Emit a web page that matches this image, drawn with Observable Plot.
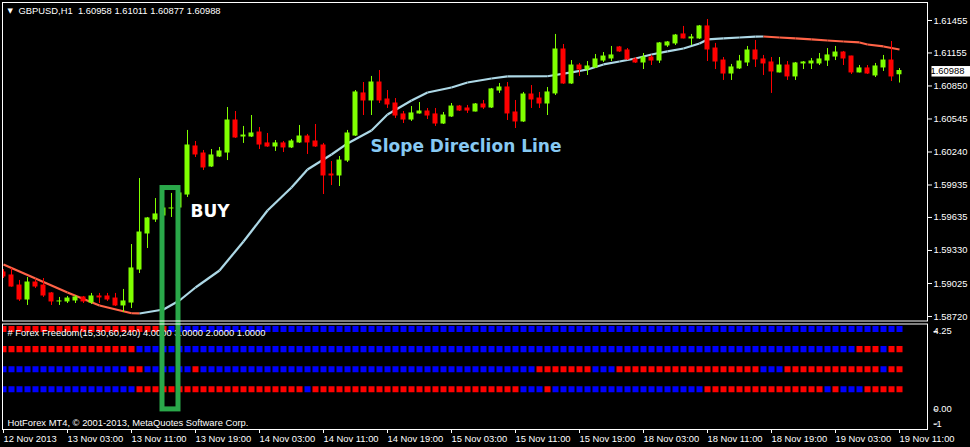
<!DOCTYPE html>
<html><head><meta charset="utf-8">
<script src="https://cdn.jsdelivr.net/npm/d3@7"></script>
<script src="https://cdn.jsdelivr.net/npm/@observablehq/plot@0.6"></script>
<style>
html,body{margin:0;padding:0;background:#000;}
#chart{width:970px;height:447px;overflow:hidden;background:#000;}
#chart svg{display:block;overflow:hidden;}
</style></head><body><div id="chart"></div>
<script>
const symbol = "GBPUSD", timeframe = "H1";
// H1 candles, bar 0 = 12 Nov 2013 19:00
const opens = [1.59127,1.59099,1.59006,1.58877,1.59034,1.59006,1.58933,1.58859,1.58859,1.58868,1.58896,1.58849,1.58905,1.58905,1.58886,1.58822,1.58849,1.59154,1.59487,1.59616,1.59653,1.59718,1.59727,1.59847,1.60291,1.60226,1.60106,1.60198,1.60235,1.60531,1.60383,1.60383,1.60420,1.60319,1.60291,1.60319,1.60282,1.60328,1.60383,1.60337,1.60300,1.60032,1.60023,1.60161,1.60392,1.60781,1.60716,1.60882,1.60725,1.60688,1.60587,1.60540,1.60596,1.60614,1.60587,1.60503,1.60568,1.60660,1.60642,1.60614,1.60679,1.60651,1.60808,1.60836,1.60605,1.60522,1.60771,1.60734,1.60688,1.60781,1.61187,1.60873,1.61039,1.61002,1.61021,1.61085,1.61104,1.61206,1.61178,1.61095,1.61067,1.61113,1.61085,1.61224,1.61243,1.61326,1.61289,1.61289,1.61400,1.61196,1.61085,1.60965,1.61012,1.61067,1.61178,1.61095,1.61067,1.60975,1.61039,1.60938,1.61058,1.61058,1.61058,1.61085,1.61122,1.61159,1.61122,1.60975,1.61012,1.60947,1.61021,1.61085,1.60958];
const highs = [1.59154,1.59164,1.59053,1.59080,1.59062,1.59071,1.58942,1.58896,1.58905,1.58914,1.58905,1.58933,1.58933,1.58933,1.58933,1.58970,1.59385,1.59995,1.59635,1.59810,1.59736,1.59857,1.59884,1.60439,1.60337,1.60254,1.60263,1.60282,1.60651,1.60614,1.60476,1.60577,1.60466,1.60411,1.60346,1.60337,1.60355,1.60485,1.60402,1.60494,1.60319,1.60152,1.60198,1.60439,1.60808,1.60882,1.60938,1.60993,1.60808,1.60734,1.60614,1.60660,1.60697,1.60642,1.60642,1.60605,1.60688,1.60670,1.60670,1.60688,1.60716,1.60827,1.60873,1.60882,1.60716,1.60790,1.60854,1.60790,1.60836,1.61326,1.61233,1.61085,1.61058,1.61076,1.61141,1.61159,1.61215,1.61215,1.61196,1.61113,1.61150,1.61132,1.61252,1.61261,1.61326,1.61400,1.61326,1.61409,1.61464,1.61243,1.61113,1.61049,1.61132,1.61215,1.61270,1.61132,1.61113,1.61113,1.61076,1.61067,1.61076,1.61104,1.61150,1.61196,1.61215,1.61169,1.61125,1.61039,1.61039,1.61058,1.61132,1.61261,1.61011];
const lows = [1.59071,1.58990,1.58859,1.58822,1.58979,1.58896,1.58822,1.58822,1.58840,1.58840,1.58840,1.58831,1.58840,1.58859,1.58812,1.58757,1.58794,1.59117,1.59348,1.59589,1.59644,1.59635,1.59699,1.59820,1.60189,1.60069,1.60097,1.60189,1.60161,1.60365,1.60319,1.60374,1.60263,1.60282,1.60245,1.60235,1.60272,1.60319,1.60217,1.60282,1.59847,1.59930,1.59921,1.60143,1.60383,1.60577,1.60577,1.60688,1.60642,1.60550,1.60503,1.60522,1.60590,1.60540,1.60476,1.60494,1.60559,1.60614,1.60596,1.60610,1.60633,1.60642,1.60781,1.60531,1.60457,1.60513,1.60642,1.60642,1.60577,1.60762,1.60864,1.60864,1.60938,1.60947,1.61012,1.61067,1.61076,1.61160,1.61085,1.61058,1.61002,1.61039,1.61058,1.61206,1.61224,1.61285,1.61224,1.61280,1.61076,1.61002,1.60901,1.60901,1.61002,1.61030,1.61021,1.60947,1.60781,1.60970,1.60901,1.60901,1.61002,1.61002,1.61039,1.61030,1.61085,1.61039,1.60956,1.60970,1.60956,1.60928,1.60984,1.60891,1.60877];
const closes = [1.59090,1.58997,1.58877,1.59034,1.58997,1.58914,1.58859,1.58859,1.58886,1.58896,1.58859,1.58905,1.58896,1.58877,1.58822,1.58859,1.59164,1.59496,1.59626,1.59663,1.59718,1.59718,1.59857,1.60300,1.60217,1.60097,1.60208,1.60245,1.60531,1.60374,1.60392,1.60411,1.60309,1.60291,1.60319,1.60282,1.60337,1.60383,1.60328,1.60291,1.60023,1.60023,1.60161,1.60411,1.60790,1.60716,1.60882,1.60716,1.60679,1.60577,1.60540,1.60596,1.60614,1.60577,1.60503,1.60577,1.60660,1.60623,1.60623,1.60679,1.60651,1.60818,1.60836,1.60596,1.60522,1.60771,1.60725,1.60688,1.60790,1.61187,1.60873,1.61039,1.61002,1.61030,1.61095,1.61122,1.61132,1.61169,1.61095,1.61067,1.61113,1.61085,1.61243,1.61252,1.61316,1.61289,1.61298,1.61400,1.61187,1.61076,1.60965,1.61021,1.61076,1.61178,1.61095,1.61058,1.60984,1.61039,1.60938,1.61058,1.61067,1.61076,1.61095,1.61132,1.61159,1.61104,1.60975,1.61012,1.60965,1.61030,1.61085,1.60938,1.60988];

// Slope Direction Line readings (bar, price)
const sdlBars   = [0,4,8,12,16,17,20,22,24,27,30,33,36,38,41,43,46,48,51,53,56,58,61,63,68,71,73,75,77,79,81,83,85,87,88,90,92,94,95,97,99,101,103,105,107,108,110,112];
const sdlValues = [1.59200,1.59071,1.58942,1.58822,1.58750,1.58748,1.58785,1.58868,1.58988,1.59145,1.59413,1.59699,1.59912,1.60078,1.60217,1.60319,1.60439,1.60587,1.60716,1.60790,1.60836,1.60882,1.60919,1.60938,1.60940,1.60975,1.61002,1.61049,1.61076,1.61104,1.61141,1.61169,1.61196,1.61243,1.61280,1.61289,1.61298,1.61305,1.61307,1.61298,1.61289,1.61280,1.61270,1.61261,1.61252,1.61233,1.61215,1.61187];

// Forex Freedom signal rows (runs of r=red / b=blue, one square per bar)
const rowM15  = [["r",21],["b",92]];
const rowM30  = [["r",17],["b",90],["r",3],["b",1],["r",2]];
const rowH1   = [["b",16],["r",2],["b",6],["r",1],["b",42],["r",7],["b",3],["r",18],["b",3],["r",12],["b",1],["r",2]];
const rowH4   = [["b",17],["r",21],["b",1],["r",26],["b",3],["r",1],["b",19],["r",15],["b",1],["r",1],["b",3],["r",5]];
const rowLevels = [4, 3, 2, 1];

const priceTicks = [1.61455,1.61155,1.60850,1.60545,1.60240,1.59935,1.59635,1.59330,1.59025,1.58720];
const indTopLabel = "4.25", indZeroLabel = "0.00", indBottomLabel = "-1";
const timeTickBars = [0,8,16,24,32,40,48,56,64,72,80,88,96,104,112];
const timeLabels = ["12 Nov 2013","13 Nov 03:00","13 Nov 11:00","13 Nov 19:00","14 Nov 03:00","14 Nov 11:00","14 Nov 19:00","15 Nov 03:00","15 Nov 11:00","15 Nov 19:00","18 Nov 03:00","18 Nov 11:00","18 Nov 19:00","19 Nov 03:00","19 Nov 11:00"];

// annotations
const buyBox = {firstBar: 20, lastBar: 22, topPrice: 1.59907, bottomLevel: 0};
const buyLabel = {text: "BUY", bar: 21, price: 1.59686};
const sdlLabel = {text: "Slope Direclion Line", bar: 46, price: 1.60286};
const indName = "# Forex Freedom(15,30,60,240) 4.0000 3.0000 2.0000 1.0000";
const copyright = "HotForex MT4, \u00a9 2001-2013, MetaQuotes Software Corp.";

// ---------- build ----------
const bull = "#80ff00", bear = "#ff0000", green = "#2aa84a";
const candles = opens.map((o, i) => ({i, open: o, high: highs[i], low: lows[i], close: closes[i]}));
const col = d => d.close >= d.open ? bull : bear;
const last = candles[candles.length - 1];
const sdl = sdlBars.map((b, k) => ({b, v: sdlValues[k]}));
const sdlSegs = d3.pairs(sdl).map(([a, b]) => ({x1: a.b, y1: a.v, x2: b.b, y2: b.v, up: b.v >= a.v}));
const cells = [rowM15, rowM30, rowH1, rowH4].flatMap((runs, r) => {
  let i = 0;
  return runs.flatMap(([s, n]) => d3.range(n).map(() => ({i: i++, level: rowLevels[r], s})));
});

const xDomain = [-0.125, 115.5];
const yDomain = [1.586784, 1.616212];
const font = "Liberation Sans, Arial, sans-serif";
const fs = 9.4;
const baseStyle = {background: "#000", color: "#fff", fontFamily: font, fontSize: fs + "px", overflow: "hidden"};
const f5 = d => d.toFixed(5);
const title = `${symbol},${timeframe}  ${f5(last.open)} ${f5(last.high)} ${f5(last.low)} ${f5(last.close)}`;
const boxX1 = d => d.firstBar - 0.125, boxX2 = d => d.lastBar - 0.125;

// short tick on the right edge of a panel, drawn at a text mark's anchor
function edgeTick(index, scales, values, d, context, next) {
  const g = next(index, scales, values, d, context);
  const ns = "http://www.w3.org/2000/svg";
  g.querySelectorAll("text").forEach(t => {
    const tr = t.getAttribute("transform") || "";
    const m = /translate\(([-\d.e]+),\s*([-\d.e]+)\)/.exec(tr);
    const yy = m ? +m[2] : +(t.getAttribute("y") || 0);
    const l = document.createElementNS(ns, "line");
    l.setAttribute("x1", d.width - d.marginRight);
    l.setAttribute("x2", d.width - d.marginRight + 4);
    l.setAttribute("y1", yy + 0.5);
    l.setAttribute("y2", yy + 0.5);
    l.setAttribute("stroke", "#fff");
    g.appendChild(l);
  });
  return g;
}

const main = Plot.plot({
  width: 970, height: 322,
  marginLeft: 2, marginRight: 43, marginTop: 2, marginBottom: 1.5,
  style: baseStyle,
  x: {domain: xDomain, axis: null, label: null},
  y: {domain: yDomain, axis: null, label: null},
  marks: [
    Plot.link(sdlSegs, {x1: "x1", y1: "y1", x2: "x2", y2: "y2", stroke: d => d.up ? "#add8e6" : "#ff6347", strokeWidth: 2.2, clip: true}),
    Plot.ruleX(candles, {x: "i", y1: "low", y2: "high", stroke: col, strokeWidth: 1, clip: true}),
    Plot.rect(candles, {x1: d => d.i - 0.5, x2: d => d.i + 0.5, y1: "open", y2: "close", fill: col, insetLeft: 1.5, insetRight: 1.5, insetTop: -0.5, insetBottom: -0.5, clip: true}),
    Plot.rect([buyBox], {x1: boxX1, x2: boxX2, y1: "topPrice", y2: () => yDomain[0] - 0.002, fill: "none", stroke: green, strokeWidth: 5}),
    Plot.text([buyLabel], {x: "bar", y: "price", text: "text", dx: 19, textAnchor: "start", fill: "#fff", fontWeight: "bold", fontSize: 17, fontFamily: "DejaVu Sans"}),
    Plot.text([sdlLabel], {x: "bar", y: "price", text: "text", dx: -1, textAnchor: "start", fill: "#87c9f2", fontWeight: "bold", fontSize: 17, fontFamily: "DejaVu Sans"}),
    Plot.text(["\u25BC"], {frameAnchor: "top-left", dx: 5, dy: 8, lineAnchor: "middle", textAnchor: "start", fontSize: 7, fill: "#fff", fontFamily: "DejaVu Sans"}),
    Plot.text([title], {frameAnchor: "top-left", dx: 16, dy: 8, lineAnchor: "middle", textAnchor: "start", fill: "#fff"}),
    Plot.axisY(priceTicks, {anchor: "right", tickSize: 4, tickPadding: 2, tickFormat: f5, label: null}),
    Plot.text([last.close], {
      y: d => d, text: f5, frameAnchor: "right", dx: 3, textAnchor: "start", fill: "#000",
      render(index, scales, values, dims, context, next) {
        const g = next(index, scales, values, dims, context);
        const yy = values.y ? values.y[0] : scales.y(last.close);
        const r = document.createElementNS("http://www.w3.org/2000/svg", "rect");
        r.setAttribute("x", dims.width - dims.marginRight + 1);
        r.setAttribute("y", yy - 5);
        r.setAttribute("width", 39);
        r.setAttribute("height", 10.5);
        r.setAttribute("fill", "#fff");
        g.insertBefore(r, g.firstChild);
        return g;
      }
    }),
    Plot.frame({stroke: "#fff"})
  ]
});

const ind = Plot.plot({
  width: 970, height: 125,
  marginLeft: 2, marginRight: 43, marginTop: 1.5, marginBottom: 18,
  style: baseStyle,
  x: {domain: xDomain, axis: null, label: null},
  y: {domain: [-1, 4.25], axis: null, label: null},
  marks: [
    Plot.dot(cells, {x: "i", y: "level", symbol: "square", r: 3.4, fill: d => d.s === "r" ? "#ff0000" : "#0000ff", stroke: null, clip: true}),
    Plot.text([indName], {frameAnchor: "top-left", dx: 5, dy: 8.5, lineAnchor: "middle", textAnchor: "start", fill: "#fff"}),
    Plot.text([copyright], {frameAnchor: "bottom-left", dx: 5, dy: -7, lineAnchor: "middle", textAnchor: "start", fill: "#fff"}),
    Plot.rect([buyBox], {x1: boxX1, x2: boxX2, y1: "bottomLevel", y2: () => 6, fill: "none", stroke: green, strokeWidth: 5}),
    Plot.text([indTopLabel], {frameAnchor: "top-right", dx: 6, dy: 7, lineAnchor: "middle", textAnchor: "start", fill: "#ffffff", render: edgeTick}),
    Plot.text([0], {y: d => d, text: () => indZeroLabel, frameAnchor: "right", dx: 6, lineAnchor: "middle", textAnchor: "start", fill: "#ffffff", render: edgeTick}),
    Plot.text([indBottomLabel], {frameAnchor: "bottom-right", dx: 6, dy: -6, lineAnchor: "middle", textAnchor: "start", fill: "#ffffff", render: edgeTick}),
    Plot.axisX(timeTickBars, {anchor: "bottom", tickSize: 4, tickPadding: 2, textAnchor: "start", tickFormat: d => timeLabels[timeTickBars.indexOf(d)], label: null}),
    Plot.frame({stroke: "#fff"})
  ]
});

const root = document.getElementById("chart");
root.appendChild(main);
root.appendChild(ind);
</script>
</body></html>
